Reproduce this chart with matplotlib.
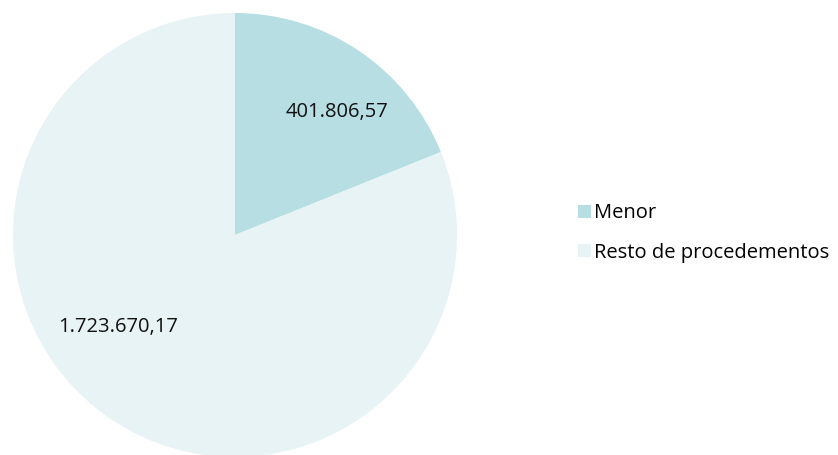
import matplotlib
matplotlib.use("Agg")
import numpy as np
import matplotlib.pyplot as plt
from matplotlib.patches import Patch

# data
labels = ["Menor", "Resto de procedementos"]
values = [401806.57, 1723670.17]
value_labels = ["401.806,57", "1.723.670,17"]
colors = ["#b7dfe3", "#e7f3f4"]

plt.rcParams['font.family'] = ['Open Sans', 'DejaVu Sans']

fig = plt.figure(figsize=(8.38, 4.55), dpi=100)
W, H = 838, 455
cx, cy, r = 235, 235, 222
ax = fig.add_axes([(cx - r) / W, (H - cy - r) / H, 2 * r / W, 2 * r / H])

wedges, _ = ax.pie(values, colors=colors, startangle=90, counterclock=False,
                   radius=1.0, wedgeprops=dict(linewidth=0))
ax.set_xlim(-1, 1)
ax.set_ylim(-1, 1)
ax.set_aspect("equal")

# label positions (relative to pie radius)
label_pos = [(0.46, 0.555), (-0.525, -0.415)]
for (x, y), t in zip(label_pos, value_labels):
    ax.text(x, y, t, ha="center", va="center", fontsize=14.5, color="#111111")

handles = [Patch(facecolor=c, edgecolor="none") for c in colors]
fig.legend(handles, labels, loc="center left", bbox_to_anchor=(570 / W, 1 - 233 / H),
           frameon=False, fontsize=14.5, handlelength=0.62, handleheight=0.62,
           handletextpad=0.15, labelspacing=0.95, borderaxespad=0)

fig.savefig("out.png", dpi=100)
